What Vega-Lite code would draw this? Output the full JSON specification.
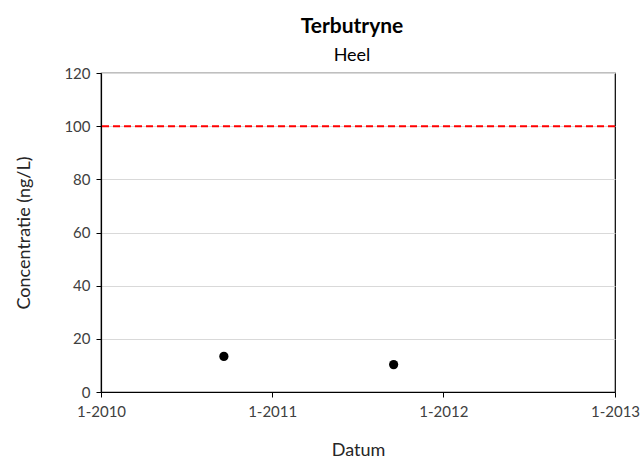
{
  "$schema": "https://vega.github.io/schema/vega-lite/v6.json",
  "width": 514,
  "height": 319,
  "autosize": {"type": "none"},
  "padding": {"left": 101, "top": 73, "right": 26, "bottom": 69},
  "background": "white",
  "title": {
    "text": "Terbutryne",
    "subtitle": "Heel",
    "font": "Lato",
    "fontSize": 21,
    "fontWeight": "bold",
    "color": "black",
    "subtitleFont": "Lato",
    "subtitleFontSize": 18,
    "subtitleColor": "black",
    "subtitlePadding": 10,
    "anchor": "middle",
    "dx": -6,
    "offset": 1
  },
  "config": {
    "view": {"stroke": "black", "strokeWidth": 1.2},
    "axis": {
      "labelFont": "Lato",
      "titleFont": "Lato",
      "labelFontSize": 15,
      "titleFontSize": 18,
      "labelColor": "#404040",
      "titleColor": "#262626",
      "titleFontWeight": "normal",
      "domainColor": "black",
      "domainWidth": 1.2,
      "tickColor": "black",
      "tickSize": 5
    }
  },
  "layer": [
    {
      "data": {
        "values": [
          {"datum": "2010-09-20", "waarde": 13.4},
          {"datum": "2011-09-17", "waarde": 10.3}
        ]
      },
      "mark": {"type": "circle", "color": "black", "opacity": 1, "size": 85},
      "encoding": {
        "x": {
          "field": "datum",
          "type": "temporal",
          "title": "Datum",
          "scale": {
            "type": "utc",
            "domain": [
              {"year": 2010, "month": 1, "date": 1, "utc": true},
              {"year": 2013, "month": 1, "date": 1, "utc": true}
            ]
          },
          "axis": {
            "values": [
              {"year": 2010, "month": 1, "date": 1, "utc": true},
              {"year": 2011, "month": 1, "date": 1, "utc": true},
              {"year": 2012, "month": 1, "date": 1, "utc": true},
              {"year": 2013, "month": 1, "date": 1, "utc": true}
            ],
            "format": "%-m-%Y",
            "grid": false,
            "labelPadding": 7,
            "titlePadding": 22,
            "labelFlush": false
          }
        },
        "y": {
          "field": "waarde",
          "type": "quantitative",
          "title": "Concentratie  (ng/L)",
          "scale": {"domain": [0, 120]},
          "axis": {
            "values": [0, 20, 40, 60, 80, 100, 120],
            "grid": true,
            "gridColor": "#d9d9d9",
            "gridWidth": 1,
            "labelPadding": 6,
            "titlePadding": 30
          }
        }
      }
    },
    {
      "data": {"values": [{"norm": 100}]},
      "mark": {"type": "rule", "color": "#ff0000", "strokeWidth": 2, "strokeDash": [7, 4]},
      "encoding": {
        "y": {"field": "norm", "type": "quantitative"}
      }
    }
  ]
}
